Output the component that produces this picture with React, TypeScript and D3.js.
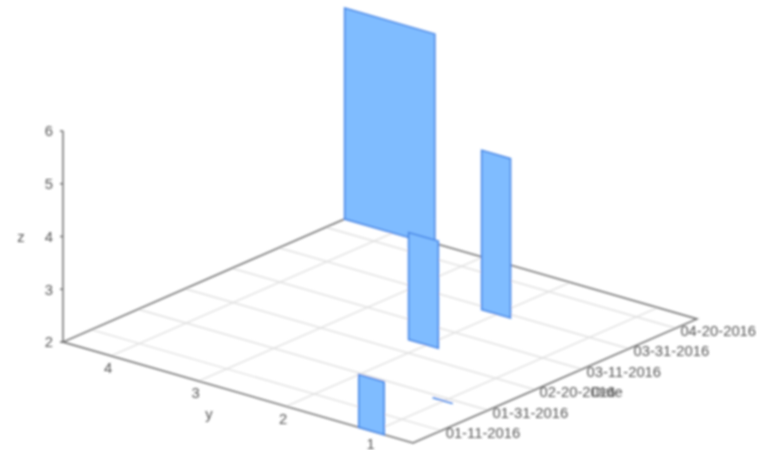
import React, { useEffect, useRef } from "react";
import * as d3 from "d3";

const dateTicks = ["01-11-2016", "01-31-2016", "02-20-2016", "03-11-2016", "03-31-2016", "04-20-2016"];
const yTicks = [4, 3, 2, 1];
const zTicks = [2, 3, 4, 5, 6];

// one ribbon per row, back to front so they overlap like the original
const barDates = ["04-28-2016", "03-29-2016", "02-28-2016", "01-29-2016", "12-30-2015"];
const barYFrom = [4.55, 2.18, 2.21, 1.13, 1.17];
const barYTo = [3.52, 1.85, 1.87, 0.9, 0.88];
const barZ = [6, 5.02, 4.03, 2, 3];

const dateDomain = ["12-30-2015", "04-29-2016"];
const yDomain = [4.55, 0.55];
const zDomain = [2, 6];

const parse = d3.utcParse("%m-%d-%Y");

function App() {
  const svgRef: any = useRef(null);

  useEffect(() => {
    draw();
  }, []);

  const draw = () => {
    const root = d3.select(svgRef.current);
    root.selectAll("*").remove();

    // softening, the reference is an upscaled screenshot
    root
      .append("defs")
      .append("filter")
      .attr("id", "soft")
      .attr("filterUnits", "userSpaceOnUse")
      .attr("x", 0)
      .attr("y", 0)
      .attr("width", 757)
      .attr("height", 450)
      .append("feGaussianBlur")
      .attr("stdDeviation", 0.85);

    const svg = root.append("g").attr("filter", "url(#soft)");

    const origin = [63, 342];
    const yVec = [350, 101]; // left corner to front corner
    const dVec = [284, -124]; // front corner to right corner

    const d = d3
      .scaleUtc()
      .domain(dateDomain.map((s) => parse(s)) as any)
      .range([0, 1]);
    const y = d3.scaleLinear().domain(yDomain).range([0, 1]);
    const z = d3.scaleLinear().domain(zDomain).range([0, -211]);

    // ground plane + height to page pixels
    const project = (dv: number, yv: number, zv: number): [number, number] => [
      origin[0] + y(yv) * yVec[0] + d(dv as any) * dVec[0],
      origin[1] + y(yv) * yVec[1] + d(dv as any) * dVec[1] + z(zv),
    ];

    const line = d3.line();
    const [d0, d1] = d.domain() as any[];
    const [y0, y1] = yDomain;
    const [z0, z1] = zDomain;

    // grid
    const grid = svg.append("g").attr("stroke", "#e0e0e0").attr("stroke-width", 1.4).attr("fill", "none");
    dateTicks.forEach((t) => {
      const dv: any = parse(t);
      grid.append("path").attr("d", line([project(dv, y0, z0), project(dv, y1, z0)]));
    });
    yTicks.forEach((t) => {
      grid.append("path").attr("d", line([project(d0, t, z0), project(d1, t, z0)]));
    });

    // floor outline and z axis
    const axes = svg.append("g").attr("stroke", "#6e6e6e").attr("stroke-width", 1.5).attr("fill", "none");
    axes
      .append("path")
      .attr(
        "d",
        line([
          project(d1, y0, z0),
          project(d0, y0, z0),
          project(d0, y1, z0),
          project(d1, y1, z0),
          project(d1, y0, z0),
        ])
      );
    axes.append("path").attr("d", line([project(d0, y0, z0), project(d0, y0, z1)]));
    zTicks.forEach((t) => {
      const p = project(d0, y0, t);
      axes.append("path").attr("d", line([p, [p[0] - 3, p[1]]]));
    });

    // ribbons
    barDates.forEach((s, i) => {
      const dv: any = parse(s);
      const corners = [
        project(dv, barYFrom[i], z0),
        project(dv, barYFrom[i], barZ[i]),
        project(dv, barYTo[i], barZ[i]),
        project(dv, barYTo[i], z0),
      ];
      svg
        .append("path")
        .attr("d", line(corners) + "Z")
        .attr("fill", "#7fbcff")
        .attr("stroke", "#4585e6")
        .attr("stroke-width", 1.6);
    });

    // text
    const labels = svg
      .append("g")
      .attr("font-family", "'Liberation Sans', Arial, sans-serif")
      .attr("font-size", 14.8)
      .attr("fill", "#555");

    dateTicks.forEach((t) => {
      const p = project(parse(t) as any, y1, z0);
      labels
        .append("text")
        .attr("x", p[0] + 4.5)
        .attr("y", p[1] + 2)
        .attr("dy", "0.36em")
        .text(t);
    });
    yTicks.forEach((t) => {
      const p = project(d0, t, z0);
      labels
        .append("text")
        .attr("x", p[0] - 3)
        .attr("y", p[1] + 12)
        .attr("dy", "0.36em")
        .attr("text-anchor", "middle")
        .text(t);
    });
    zTicks.forEach((t) => {
      const p = project(d0, y0, t);
      labels
        .append("text")
        .attr("x", p[0] - 10)
        .attr("y", p[1])
        .attr("dy", "0.36em")
        .attr("text-anchor", "end")
        .text(t);
    });
    labels.append("text").attr("x", 21).attr("y", 237).attr("dy", "0.36em").attr("text-anchor", "middle").text("z");
    labels.append("text").attr("x", 209).attr("y", 414).attr("dy", "0.36em").attr("text-anchor", "middle").text("y");
    labels.append("text").attr("x", 607).attr("y", 392).attr("dy", "0.36em").attr("text-anchor", "middle").text("Date");
  };

  return (
    <svg
      ref={svgRef}
      width={757}
      height={450}
      viewBox="0 0 757 450"
      style={{ position: "absolute", left: 0, top: 0, display: "block", background: "#fff" }}
    />
  );
}

export default App;
